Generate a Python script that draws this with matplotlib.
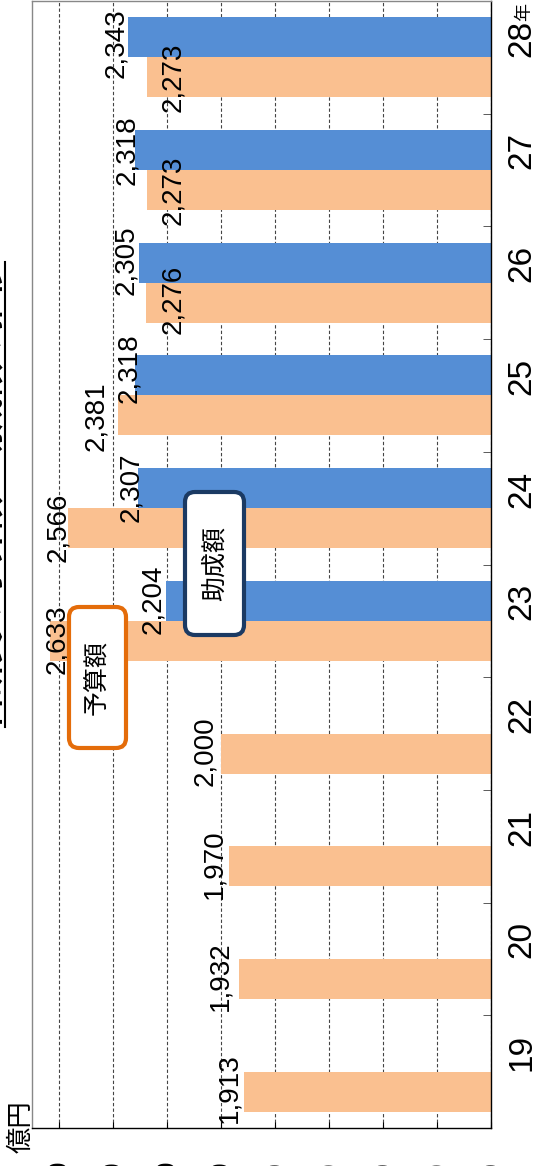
import numpy as np
import matplotlib
matplotlib.use('Agg')
import matplotlib.pyplot as plt
from matplotlib.patches import FancyBboxPatch
from matplotlib.lines import Line2D

# data (億円), fiscal years (平成)
years = ['19', '20', '21', '22', '23', '24', '25', '26', '27', '28']
budget = [1913, 1932, 1970, 2000, 2633, 2566, 2381, 2276, 2273, 2273]   # 予算額
grant_years = ['23', '24', '25', '26', '27', '28']
grant = [2204, 2307, 2318, 2305, 2318, 2343]                            # 助成額
value_ticks = [1000, 1200, 1400, 1600, 1800, 2000, 2200, 2400, 2600]

# label nudges from bar end, in pixels (dx, dy)
budget_off = [(-15, 4), (-19, 3), (-15, 2), (-16, 2), (7, 2),
              (-10, 1), (-22, -1), (27, 3), (26, 0), (26, 0)]
grant_off = [(-13, 2), (-7, 1), (-6, 7), (-13, 3), (-8, 0), (-12, -6)]

plt.rcParams['font.family'] = ['Liberation Sans Narrow', 'Liberation Sans', 'Noto Sans CJK JP']
JP = ['Noto Sans CJK JP', 'DejaVu Sans']

W, H = 534, 1166
fig = plt.figure(figsize=(W / 100, H / 100), dpi=100)
ax = fig.add_axes([32 / W, 38 / H, (491 - 32) / W, 1127 / H])

ypos = np.arange(len(years))
bh = 0.355
ax.barh(ypos - bh / 2, budget, height=bh, color='#FAC090', zorder=2)
gpos = np.array([years.index(y) for y in grant_years])
ax.barh(gpos + bh / 2, grant, height=bh, color='#558ED5', zorder=2)

ax.set_xlim(2700, 1000)
ax.set_ylim(-0.5, 9.5)

# value axis (bottom after rotation)
ax.set_xticks(value_ticks, [f'{v:,}' for v in value_ticks])
ax.tick_params(axis='x', direction='in', length=4, width=0.8, pad=23,
               labelsize=20, labelrotation=90)
ax.grid(axis='x', linestyle=(0, (3, 2)), color='#444444', linewidth=0.8, zorder=1)

# category axis (right after rotation)
ax.set_yticks(ypos + 0.17, years)
ax.set_yticks(ypos[:-1] + 0.5, minor=True)
ax.tick_params(axis='y', which='both', left=False, right=True,
               labelleft=False, labelright=True)
ax.tick_params(axis='y', which='major', length=0, pad=11, labelrotation=90)
ax.tick_params(axis='y', which='minor', direction='in', length=6, color='#404040')
for t in ax.get_yticklabels():
    t.set_va('center')
    t.set_family('Liberation Sans')
    t.set_fontsize(24)

for side in ['left', 'top']:
    ax.spines[side].set_color('#888888')
    ax.spines[side].set_linewidth(1)
for side in ['right', 'bottom']:
    ax.spines[side].set_color('black')
    ax.spines[side].set_linewidth(1)

# data labels
for i, v in enumerate(budget):
    dx, dy = budget_off[i]
    ax.annotate(f'{v:,}', xy=(v, ypos[i] - bh / 2), xytext=(dx, dy),
                textcoords='offset pixels', rotation=90, ha='center', va='center',
                fontsize=20, zorder=4)
for k, v in enumerate(grant):
    dx, dy = grant_off[k]
    ax.annotate(f'{v:,}', xy=(v, gpos[k] + bh / 2), xytext=(dx, dy),
                textcoords='offset pixels', rotation=90, ha='center', va='center',
                fontsize=20, zorder=4)


def callout(x0, y0, x1, y1, ec, text):
    box = FancyBboxPatch((x0 / 100, (H - y1) / 100), (x1 - x0) / 100, (y1 - y0) / 100,
                         boxstyle='round,pad=0,rounding_size=0.1',
                         transform=fig.dpi_scale_trans, fc='white', ec=ec, lw=3)
    fig.add_artist(box)
    fig.text((x0 + x1) / 2 / W, 1 - (y0 + y1) / 2 / H, text, rotation=90,
             ha='center', va='center', fontsize=18, family=JP)


callout(69, 607, 126, 748, '#E46C0A', '予算額')
callout(185, 492, 244, 635, '#1B3A63', '助成額')

# unit labels
fig.text(21 / W, 1 - 1127 / H, '億円', rotation=90, ha='center', va='center',
         fontsize=19, family=JP)
fig.text(524 / W, 1 - 12 / H, '年', rotation=90, ha='center', va='center',
         fontsize=13, family=JP)

# title (mostly cut off at the left edge), underlined
fig.text(7 / W, 1 - 495 / H, '科研費の予算額・助成額の推移', rotation=90,
         ha='right', va='center', fontsize=24, fontweight='bold', family=JP)
fig.add_artist(Line2D([5.5 / W, 5.5 / W], [1 - 262 / H, 1 - 727 / H],
                      transform=fig.transFigure, color='black', lw=1.5))

fig.savefig('out.png', dpi=100)
